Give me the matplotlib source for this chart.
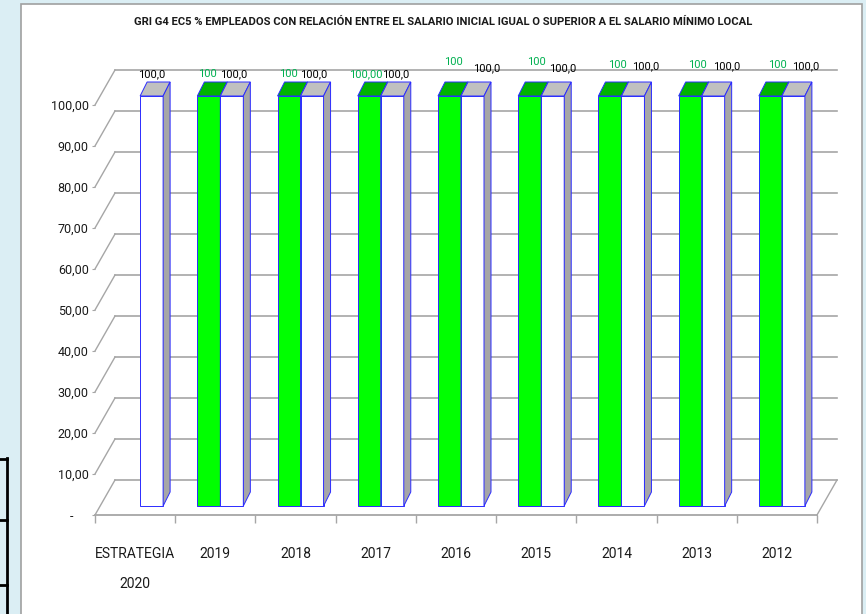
import numpy as np
import matplotlib
matplotlib.use("Agg")
import matplotlib.pyplot as plt
from matplotlib.patches import Polygon, Rectangle
from matplotlib.lines import Line2D

plt.rcParams['font.family'] = ['Roboto', 'DejaVu Sans']

# Data
title = "GRI G4 EC5 % EMPLEADOS CON RELACIÓN ENTRE EL SALARIO INICIAL IGUAL O SUPERIOR A EL SALARIO MÍNIMO LOCAL"
categories = ["ESTRATEGIA\n2020", "2019", "2018", "2017", "2016", "2015", "2014", "2013", "2012"]
green_values = [np.nan, 100, 100, 100, 100, 100, 100, 100, 100]
white_values = [100.0, 100.0, 100.0, 100.0, 100.0, 100.0, 100.0, 100.0, 100.0]
green_labels = ["", "100", "100", "100,00", "100", "100", "100", "100", "100"]
white_labels = ["100,0", "100,0", "100,0", "100,0", "100,0", "100,0", "100,0", "100,0", "100,0"]
y_ticks = [0, 10, 20, 30, 40, 50, 60, 70, 80, 90, 100]
y_tick_labels = ["-     ", "10,00", "20,00", "30,00", "40,00", "50,00", "60,00",
                 "70,00", "80,00", "90,00", "100,00"]

# label placement tweaks (pixels, relative to bar top)
white_lab_dx = [0, 2, 2, 3, 14, 10, 13, 13, 12]
white_lab_dy = [22, 22, 22, 22, 28, 28, 30, 30, 30]
green_lab_dx = [0, -1, -1, -3, 4, 7, 7, 7, 7]
green_lab_dy = [22, 22, 22, 22, 34, 34, 31, 31, 31]

GREEN = '#00FF00'
GREEN_TOP = '#00B400'
WHITE_TOP = '#C0C0C0'
SIDE = '#A6A6A6'
EDGE = '#2B2BFF'
GRID = '#A6A6A6'
LABEL_GREEN = '#00B050'

W, H = 866, 614
fig = plt.figure(figsize=(W / 100, H / 100), dpi=100)
fig.patch.set_facecolor('#DBEEF4')

# chart area
fig.add_artist(Rectangle((21 / W, -0.01), (862 - 21) / W, (H - 4) / H + 0.01,
                         transform=fig.transFigure, facecolor='white',
                         edgecolor='#A0A0A0', lw=1.2, zorder=-1))
# fragment of a table on the left edge
for yy in [459, 520, 585]:
    fig.add_artist(Line2D([0, 7.5 / W], [1 - yy / H, 1 - yy / H], transform=fig.transFigure,
                          color='black', lw=2))
fig.add_artist(Line2D([6.5 / W, 6.5 / W], [1 - 458 / H, 0], transform=fig.transFigure,
                      color='black', lw=2))

ax = fig.add_axes([95 / W, (H - 515) / H, 722 / W, 410 / H])
ax.set_xlim(0, len(categories))
ax.set_ylim(0, 100)
ax.patch.set_visible(False)
for s in ['left', 'top', 'right']:
    ax.spines[s].set_visible(False)
ax.spines['bottom'].set_color(GRID)
ax.spines['bottom'].set_linewidth(1.3)

p0 = ax.transData.transform((0, 0))
p1 = ax.transData.transform((1, 1))
sx, sy = p1[0] - p0[0], p1[1] - p0[1]


def shift(x, y, dpx):
    return (x + dpx[0] / sx, y + dpx[1] / sy)


WALL = (20, 35)
FRONT = (5, 9)
BACK = (12, 23)

# walls
n = len(categories)
for v in y_ticks:
    a = shift(0, v, WALL)
    b = shift(n, v, WALL)
    ax.plot([a[0], b[0]], [a[1], b[1]], color=GRID, lw=1.2, clip_on=False, zorder=1)
    ax.plot([0, a[0]], [v, a[1]], color=GRID, lw=1.0, clip_on=False, zorder=1)
c = shift(n, 0, WALL)
ax.plot([n, c[0]], [0, c[1]], color=GRID, lw=1.0, clip_on=False, zorder=1)


def bar3d(x0, x1, v, face, top):
    f0 = shift(x0, 0, FRONT)
    ax.add_patch(Rectangle(f0, x1 - x0, v, facecolor=face, edgecolor=EDGE, lw=0.7,
                           clip_on=False, zorder=3))
    top_pts = [shift(x0, v, FRONT), shift(x1, v, FRONT), shift(x1, v, BACK), shift(x0, v, BACK)]
    ax.add_patch(Polygon(top_pts, closed=True, facecolor=top, edgecolor=EDGE, lw=0.7,
                         clip_on=False, zorder=3))
    side_pts = [shift(x1, 0, FRONT), shift(x1, v, FRONT), shift(x1, v, BACK), shift(x1, 0, BACK)]
    ax.add_patch(Polygon(side_pts, closed=True, facecolor=SIDE, edgecolor=EDGE, lw=0.7,
                         clip_on=False, zorder=3))


bw = 23 / sx
for i in range(n):
    cx = i + 0.5
    gv = green_values[i]
    if not np.isnan(gv):
        bar3d(cx - bw, cx, gv, GREEN, GREEN_TOP)
        ax.annotate(green_labels[i], xy=shift(cx - bw / 2, gv, FRONT),
                    xytext=(green_lab_dx[i], green_lab_dy[i]), textcoords='offset pixels',
                    ha='center', va='center', fontsize=8, color=LABEL_GREEN, zorder=5,
                    annotation_clip=False)
    wv = white_values[i]
    bar3d(cx, cx + bw, wv, 'white', WHITE_TOP)
    ax.annotate(white_labels[i], xy=shift(cx + bw / 2, wv, FRONT),
                xytext=(white_lab_dx[i], white_lab_dy[i]), textcoords='offset pixels',
                ha='center', va='center', fontsize=8, color='black', zorder=5,
                annotation_clip=False)

# axes ticks
ax.set_yticks(y_ticks)
ax.set_yticklabels(y_tick_labels)
ax.tick_params(axis='y', length=2.5, color=GRID, pad=2, labelsize=9, labelcolor='#1a1a1a')
ax.set_xticks(np.arange(n) + 0.5)
ax.set_xticklabels(categories, linespacing=2.5)
ax.set_xticks(np.arange(n + 1), minor=True)
ax.tick_params(axis='x', which='major', length=0, pad=23, labelsize=10, labelcolor='#1a1a1a')
ax.tick_params(axis='x', which='minor', length=6, color=GRID, width=1)

fig.text(443 / W, 1 - 22 / H, title, ha='center', va='center', fontsize=8.1,
         fontweight='bold', color='#1a1a1a')

fig.savefig('out.png', dpi=100, facecolor=fig.get_facecolor())
